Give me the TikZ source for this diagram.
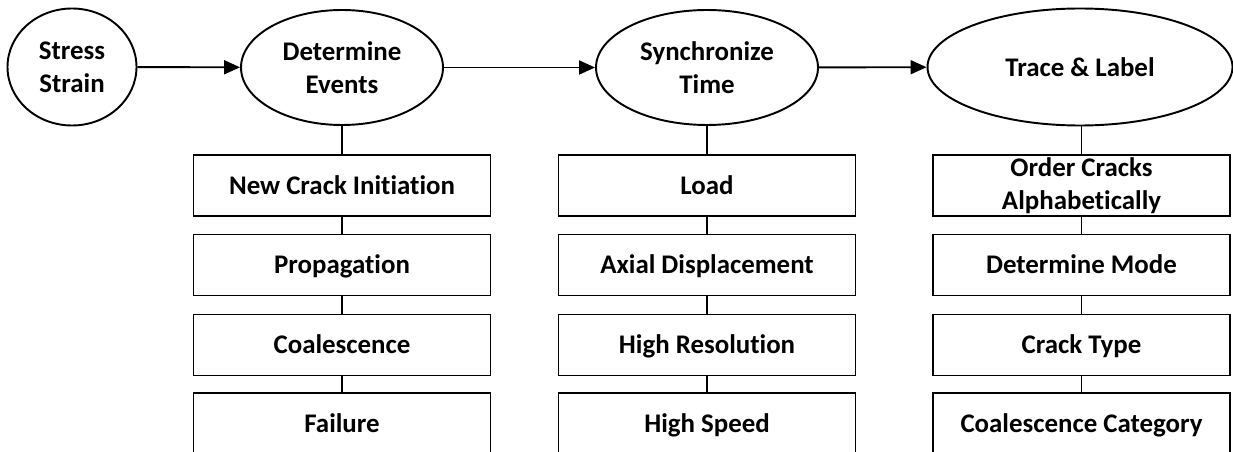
\documentclass[tikz,border=0pt]{standalone}
\usepackage{fontspec}
\setmainfont{Carlito}[Ligatures=NoCommon]
\usetikzlibrary{arrows.meta,shapes.geometric}
\begin{document}
\begin{tikzpicture}[
        stage/.style={draw,ellipse,line width=1.1pt,inner sep=0pt,align=center,font=\fontsize{15.3}{18.6}\selectfont\bfseries},
        task/.style={draw,rectangle,line width=1.1pt,minimum width=5.94cm,minimum height=1.22cm,inner sep=0pt,align=center,text height=13.4pt,text depth=3.6pt,font=\fontsize{15.3}{18.6}\selectfont\bfseries},
        flow/.style={line width=1.1pt,-{Triangle[length=0.32cm,width=0.28cm]}},
        link/.style={line width=1.1pt}]
        \clip(0,0)rectangle(24.66,-9.04);
        % stages
        \node(1)at(1.44,-1.34)[stage,minimum width=2.58cm,minimum height=2.34cm]{Stress\\Strain};
        \node(2)at(6.84,-1.35)[stage,minimum width=4.04cm,minimum height=2.3cm]{Determine\\Events};
        \node(3)at(14.14,-1.35)[stage,minimum width=4.44cm,minimum height=2.3cm]{Synchronize\\Time};
        \node(4)at(21.6,-1.34)[stage,minimum width=6.1cm,minimum height=2.34cm]{Trace \& Label};
        % tasks
        \node(5)at(6.84,-3.71)[task]{New Crack Initiation};
        \node(6)at(6.84,-5.30)[task]{Propagation};
        \node(7)at(6.84,-6.90)[task]{Coalescence};
        \node(8)at(6.84,-8.47)[task]{Failure};
        \node(9)at(14.14,-3.71)[task]{Load};
        \node(10)at(14.14,-5.30)[task]{Axial Displacement};
        \node(11)at(14.14,-6.90)[task]{High Resolution};
        \node(12)at(14.14,-8.47)[task]{High Speed};
        \node(13)at(21.63,-3.71)[task,text height=30.4pt]{Order Cracks\\Alphabetically};
        \node(14)at(21.63,-5.30)[task]{Determine Mode};
        \node(15)at(21.63,-6.90)[task]{Crack Type};
        \node(16)at(21.63,-8.47)[task]{Coalescence Category};
        \draw[flow](1)--(2);
        \draw[flow](2)--(3);
        \draw[flow](3)--(4);
        \draw[link](2)--(5);
        \draw[link](5)--(6);
        \draw[link](6)--(7);
        \draw[link](7)--(8);
        \draw[link](3)--(9);
        \draw[link](9)--(10);
        \draw[link](10)--(11);
        \draw[link](11)--(12);
        \draw[link](4.south-|13.north)--(13);
        \draw[link](13)--(14);
        \draw[link](14)--(15);
        \draw[link](15)--(16);
    \end{tikzpicture}
\end{document}
